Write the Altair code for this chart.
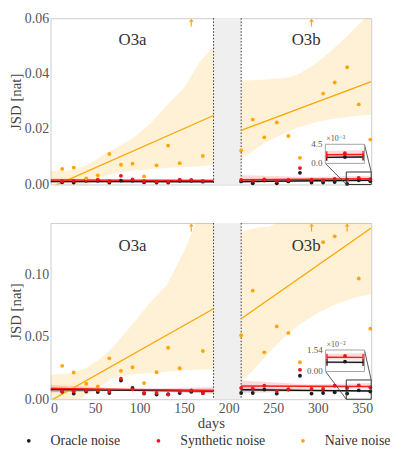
import altair as alt
import numpy as np
import pandas as pd

FONT = "Liberation Serif, DejaVu Serif, serif"
NOISE = ["Oracle noise", "Synthetic noise", "Naive noise"]
COLORS = ["#1c1c1c", "#e8161d", "#ffa500"]
C_OR, C_SY, C_NA = COLORS

X_DOMAIN = [0, 360]
X_TICKS = [0, 50, 100, 150, 200, 250, 300, 350]
SPAN_A = [0, 183]
SPAN_B = [214, 360]
GAP = [183, 214]
RUN_LABELS = ["O3a", "O3b"]
RUN_LABEL_DAYS = [92, 287]

DAYS_A = [13, 26, 40, 53, 66, 79, 92, 105, 119, 132, 145, 158, 171]
DAYS_B = [214, 227, 240, 254, 267, 280, 293, 306, 319, 333, 346, 359]

# ---------------- top panel ----------------
TOP_YMAX = 0.06
TOP_YTICKS = [0.0, 0.02, 0.04, 0.06]
TOP_NAIVE_A = [0.0056, 0.0061, 0.0022, 0.0033, 0.0110, 0.0071, 0.0075, 0.0029, 0.0069, 0.0140, 0.0077, None, 0.0103]
TOP_NAIVE_B = [0.0123, 0.0234, 0.0170, 0.0224, 0.0175, 0.0096, None, 0.0328, 0.0368, 0.0423, 0.0289, 0.0162]
TOP_SYN_A = [0.0012, 0.0013, 0.0016, 0.0017, 0.0012, 0.0031, 0.0018, 0.0012, 0.0010, 0.0010, 0.0017, 0.0016, 0.0013]
TOP_ORA_A = [0.0008, 0.0007, 0.0013, 0.0013, 0.0007, 0.0014, 0.0013, 0.0008, 0.0007, 0.0007, 0.0013, 0.0013, 0.0010]
TOP_SYN_B = [0.0016, 0.0014, 0.0018, 0.0013, 0.0016, 0.0059, 0.0017, 0.0015, 0.0020, 0.0017, 0.0024, 0.0019]
TOP_ORA_B = [0.0011, 0.0004, 0.0014, 0.0004, 0.0011, 0.0042, 0.0007, 0.0007, 0.0009, 0.0002, 0.0015, 0.0012]
# fitted trend lines: value at start and end of each run
TOP_FIT_NAIVE_A = [-0.0011, 0.0249]
TOP_FIT_NAIVE_B = [0.0195, 0.0371]
TOP_FIT_SYN_A = [0.0016, 0.0014]
TOP_FIT_SYN_B = [0.0017, 0.0021]
TOP_FIT_ORA_A = [0.0011, 0.0010]
TOP_FIT_ORA_B = [0.0011, 0.0015]
# confidence bands
TOP_BAND_NAIVE_A_DAYS = [0, 20, 40, 57, 75, 94, 112, 130, 150, 167, 183]
TOP_BAND_NAIVE_A_LO = [-0.006, -0.003, -0.0005, 0.0025, 0.0042, 0.0050, 0.0055, 0.0059, 0.0063, 0.0066, 0.0069]
TOP_BAND_NAIVE_A_HI = [0.0048, 0.0050, 0.0068, 0.0103, 0.0135, 0.0170, 0.0220, 0.0283, 0.0350, 0.0440, 0.0498]
TOP_BAND_NAIVE_B_DAYS = [214, 240, 266, 277, 295, 313, 332, 346, 360]
TOP_BAND_NAIVE_B_LO = [0.0092, 0.0150, 0.0190, 0.0205, 0.0222, 0.0235, 0.0243, 0.0248, 0.0252]
TOP_BAND_NAIVE_B_HI = [0.0374, 0.0379, 0.0385, 0.0396, 0.0430, 0.0476, 0.0532, 0.0578, 0.0620]
TOP_BAND3_DAYS_A = [0, 90, 183]
TOP_BAND3_DAYS_B = [214, 290, 360]
TOP_BAND_SYN_A_LO = [0.0010, 0.0012, 0.0009]
TOP_BAND_SYN_A_HI = [0.0022, 0.0017, 0.0020]
TOP_BAND_ORA_A_LO = [0.0008, 0.0009, 0.0007]
TOP_BAND_ORA_A_HI = [0.0014, 0.0011, 0.0013]
TOP_BAND_SYN_B_LO = [0.0005, 0.0013, 0.0015]
TOP_BAND_SYN_B_HI = [0.0033, 0.0027, 0.0031]
TOP_BAND_ORA_B_LO = [0.0006, 0.0011, 0.0012]
TOP_BAND_ORA_B_HI = [0.0016, 0.0015, 0.0018]
TOP_INSET_YMAX = 0.0045
TOP_INSET_LABELS = ["0.0", "4.5"]
TOP_INSET_EXP = "×10⁻³"

# ---------------- bottom panel ----------------
BOT_YMAX = 0.141
BOT_YTICKS = [0.0, 0.05, 0.10]
BOT_NAIVE_A = [0.0267, 0.0214, 0.0124, 0.0103, 0.0327, 0.0227, 0.0256, 0.0129, 0.0216, 0.0412, 0.0248, None, 0.0386]
BOT_NAIVE_B = [0.0512, 0.0869, 0.0375, 0.0583, 0.0531, 0.0296, None, 0.1257, 0.1304, None, 0.0966, 0.0565]
BOT_SYN_A = [0.0063, 0.0063, 0.0069, 0.0071, 0.0060, 0.0164, 0.0079, 0.0050, 0.0050, 0.0037, 0.0063, 0.0071, 0.0050]
BOT_ORA_A = [0.0060, 0.0045, 0.0062, 0.0058, 0.0050, 0.0150, 0.0090, 0.0045, 0.0037, 0.0040, 0.0050, 0.0060, 0.0050]
BOT_SYN_B = [0.0090, 0.0085, 0.0108, 0.0066, 0.0080, 0.0235, 0.0082, 0.0082, 0.0108, 0.0089, 0.0111, 0.0095]
BOT_ORA_B = [0.0050, 0.0050, 0.0077, 0.0045, 0.0077, 0.0188, 0.0045, 0.0050, 0.0055, 0.0045, 0.0071, 0.0062]
BOT_FIT_NAIVE_A = [-0.0012, 0.0724]
BOT_FIT_NAIVE_B = [0.0644, 0.1370]
BOT_FIT_SYN_A = [0.0085, 0.0069]
BOT_FIT_SYN_B = [0.0106, 0.0101]
BOT_FIT_ORA_A = [0.0077, 0.0065]
BOT_FIT_ORA_B = [0.0075, 0.0065]
BOT_BAND_NAIVE_A_DAYS = [0, 20, 40, 55, 70, 94, 112, 130, 149, 163, 183]
BOT_BAND_NAIVE_A_LO = [-0.013, -0.006, 0.003, 0.010, 0.017, 0.020, 0.021, 0.022, 0.023, 0.0235, 0.024]
BOT_BAND_NAIVE_A_HI = [0.0196, 0.0205, 0.0250, 0.0320, 0.0415, 0.0618, 0.0776, 0.0908, 0.1170, 0.1410, 0.1650]
BOT_BAND_NAIVE_B_DAYS = [214, 230, 245, 260, 280, 300, 320, 340, 360]
BOT_BAND_NAIVE_B_LO = [0.014, 0.025, 0.037, 0.048, 0.060, 0.069, 0.076, 0.081, 0.084]
BOT_BAND_NAIVE_B_HI = [0.134, 0.137, 0.138, 0.143, 0.155, 0.170, 0.185, 0.200, 0.215]
BOT_BAND3_DAYS_A = [0, 90, 183]
BOT_BAND3_DAYS_B = [214, 290, 360]
BOT_BAND_SYN_A_LO = [0.0055, 0.0072, 0.0045]
BOT_BAND_SYN_A_HI = [0.0115, 0.0083, 0.0095]
BOT_BAND_ORA_A_LO = [0.0056, 0.0066, 0.0045]
BOT_BAND_ORA_A_HI = [0.0098, 0.0074, 0.0085]
BOT_BAND_SYN_B_LO = [0.0062, 0.0088, 0.0085]
BOT_BAND_SYN_B_HI = [0.0150, 0.0118, 0.0130]
BOT_BAND_ORA_B_LO = [0.0050, 0.0062, 0.0055]
BOT_BAND_ORA_B_HI = [0.0100, 0.0072, 0.0078]
BOT_INSET_YMAX = 0.0154
BOT_INSET_LABELS = ["0.00", "1.54"]
BOT_INSET_EXP = "×10⁻²"

# inset layout (zoomed window and where the inset box sits, in data units)
INSET_SRC_X = [332, 360]
TOP_INSET_BOX = {"x": [308.5, 352.4], "y": [0.0076, 0.0145]}
BOT_INSET_BOX = {"x": [308.8, 352.4], "y": [0.0222, 0.0394]}

ARROW = "M0,-1L-0.6,-0.25L-0.14,-0.25L-0.14,1L0.14,1L0.14,-0.25L0.6,-0.25Z"
PANEL_W = 324


def build_panel(ymax, yticks, naive, syn, ora, fits, bands_naive, bands3,
                inset_ymax, inset_labels, inset_exp, inset_box, height, bottom):
    xscale = alt.Scale(domain=X_DOMAIN, nice=False, zero=False)
    yscale = alt.Scale(domain=[0, ymax], nice=False, zero=False)
    xaxis = alt.Axis(values=X_TICKS, title="days") if bottom else None
    yaxis = alt.Axis(values=yticks, format=".2f", title="JSD [nat]")

    def X(f="day"):
        return alt.X(f"{f}:Q", scale=xscale, axis=xaxis)

    def Y(f="v"):
        return alt.Y(f"{f}:Q", scale=yscale, axis=yaxis)

    layers = []
    gap = pd.DataFrame({"x0": [GAP[0]], "x1": [GAP[1]], "y0": [0.0], "y1": [ymax]})
    layers.append(alt.Chart(gap).mark_rect(color="#efefef").encode(
        x=X("x0"), x2="x1:Q", y=Y("y0"), y2="y1:Q"))

    def band_df(days_a, lo_a, hi_a, days_b, lo_b, hi_b):
        return pd.concat([
            pd.DataFrame({"day": days_a, "lo": lo_a, "hi": hi_a, "seg": "a"}),
            pd.DataFrame({"day": days_b, "lo": lo_b, "hi": hi_b, "seg": "b"})])

    (nda, nloa, nhia, ndb, nlob, nhib) = bands_naive
    layers.append(alt.Chart(band_df(nda, nloa, nhia, ndb, nlob, nhib)).mark_area(
        clip=True, color=C_NA, opacity=0.16).encode(
        x=X(), y=Y("lo"), y2="hi:Q", detail="seg:N"))
    d3a, d3b, syn_a_lo, syn_a_hi, syn_b_lo, syn_b_hi, ora_a_lo, ora_a_hi, ora_b_lo, ora_b_hi = bands3
    layers.append(alt.Chart(band_df(d3a, syn_a_lo, syn_a_hi, d3b, syn_b_lo, syn_b_hi)).mark_area(
        clip=True, color=C_SY, opacity=0.16).encode(
        x=X(), y=Y("lo"), y2="hi:Q", detail="seg:N"))
    layers.append(alt.Chart(band_df(d3a, ora_a_lo, ora_a_hi, d3b, ora_b_lo, ora_b_hi)).mark_area(
        clip=True, color="#000000", opacity=0.13).encode(
        x=X(), y=Y("lo"), y2="hi:Q", detail="seg:N"))

    layers.append(alt.Chart(pd.DataFrame({"day": GAP})).mark_rule(
        color="#333333", strokeDash=[1.5, 1.8], strokeWidth=1).encode(x=X()))

    def fit_df(fa, fb):
        return pd.DataFrame({"day": SPAN_A + SPAN_B, "v": fa + fb, "seg": ["a", "a", "b", "b"]})

    fna, fnb, fsa, fsb, foa, fob = fits
    for fa, fb, col, w in [(fna, fnb, C_NA, 1.3), (foa, fob, "#111111", 1.5), (fsa, fsb, "#ff1a1a", 1.5)]:
        layers.append(alt.Chart(fit_df(fa, fb)).mark_line(clip=True, color=col, strokeWidth=w).encode(
            x=X(), y=Y(), detail="seg:N"))

    rows = []
    for k, (name, va, vb) in enumerate([(NOISE[0], ora[0], ora[1]), (NOISE[1], syn[0], syn[1]),
                                         (NOISE[2], naive[0], naive[1])]):
        for d, v in list(zip(DAYS_A, va)) + list(zip(DAYS_B, vb)):
            if v is not None:
                rows.append({"day": d, "v": v, "noise": name, "ord": k})
    pts = pd.DataFrame(rows)
    layers.append(alt.Chart(pts).mark_circle(size=15, opacity=1).encode(
        x=X(), y=Y(),
        color=alt.Color("noise:N", scale=alt.Scale(domain=NOISE, range=COLORS),
                        legend=alt.Legend(title=None, orient="none", legendX=-29, legendY=420,
                                          direction="horizontal", columns=3,
                                          symbolType="circle", symbolSize=14, symbolStrokeWidth=0,
                                          labelOffset=15, columnPadding=31, labelFontSize=14,
                                          labelFont=FONT, labelColor="#333333")),
        order=alt.Order("ord:Q")))

    arrow_days = [d for d, v in list(zip(DAYS_A, naive[0])) + list(zip(DAYS_B, naive[1])) if v is None]
    arr = pd.DataFrame({"day": arrow_days, "v": [ymax] * len(arrow_days)})
    layers.append(alt.Chart(arr).mark_point(shape=ARROW, filled=True, size=64, color=C_NA,
                                            opacity=1, yOffset=4.5).encode(x=X(), y=Y()))

    lab = pd.DataFrame({"day": RUN_LABEL_DAYS, "v": [ymax * 0.87] * 2, "t": RUN_LABELS})
    layers.append(alt.Chart(lab).mark_text(font=FONT, fontSize=17, color="#333333").encode(
        x=X(), y=Y(), text="t:N"))

    # ------- inset -------
    bx0, bx1 = inset_box["x"]
    by0, by1 = inset_box["y"]
    sx0, sx1 = INSET_SRC_X

    def mx(d):
        return bx0 + (np.asarray(d, float) - sx0) / (sx1 - sx0) * (bx1 - bx0)

    def my(v):
        return by0 + np.asarray(v, float) / inset_ymax * (by1 - by0)

    zoom_rect = pd.DataFrame({"x0": [sx0], "x1": [sx1], "y0": [0.0], "y1": [inset_ymax]})
    layers.append(alt.Chart(zoom_rect).mark_rect(fillOpacity=0, stroke="#333333", strokeWidth=1).encode(
        x=X("x0"), x2="x1:Q", y=Y("y0"), y2="y1:Q"))
    conn = pd.DataFrame({"x0": [bx0, bx1], "y0": [by0, by1], "x1": [sx0, sx1], "y1": [0.0, inset_ymax]})
    layers.append(alt.Chart(conn).mark_rule(color="#444444", strokeWidth=0.9).encode(
        x=X("x0"), y=Y("y0"), x2="x1:Q", y2="y1:Q"))
    box = pd.DataFrame({"x0": [bx0], "x1": [bx1], "y0": [by0], "y1": [by1]})
    layers.append(alt.Chart(box).mark_rect(fill="white", stroke="#9a9a9a", strokeWidth=0.9).encode(
        x=X("x0"), x2="x1:Q", y=Y("y0"), y2="y1:Q"))

    edge = [sx0, sx1]
    for lo, hi, col, op in [(ora_b_lo, ora_b_hi, "#000000", 0.13), (syn_b_lo, syn_b_hi, C_SY, 0.16)]:
        bdf = pd.DataFrame({"day": mx(edge), "lo": my(np.interp(edge, d3b, lo)),
                            "hi": my(np.interp(edge, d3b, hi))})
        layers.append(alt.Chart(bdf).mark_area(color=col, opacity=op).encode(
            x=X(), y=Y("lo"), y2="hi:Q"))
    ends = [DAYS_B[-3], DAYS_B[-1]]
    for fb, col, pcol, vals in [(fob, "#111111", C_OR, ora[1]), (fsb, "#ff1a1a", C_SY, syn[1])]:
        fv = [fb[0] + (d - SPAN_B[0]) / (SPAN_B[1] - SPAN_B[0]) * (fb[1] - fb[0]) for d in ends]
        ldf = pd.DataFrame({"day": mx(ends), "v": my(fv)})
        layers.append(alt.Chart(ldf).mark_line(color=col, strokeWidth=1.4).encode(x=X(), y=Y()))
        layers.append(alt.Chart(ldf).mark_point(shape="stroke", angle=90, size=50, color=col,
                                                strokeWidth=1.3, opacity=1).encode(x=X(), y=Y()))
        pdf = pd.DataFrame({"day": mx([DAYS_B[-2]]), "v": my([vals[-2]])})
        layers.append(alt.Chart(pdf).mark_circle(size=15, color=pcol, opacity=1).encode(x=X(), y=Y()))
    tl = pd.DataFrame({"day": [bx0, bx0], "v": [by0, by1], "t": inset_labels})
    layers.append(alt.Chart(tl).mark_text(font=FONT, fontSize=9, color="#555555", align="right",
                                          dx=-3).encode(x=X(), y=Y(), text="t:N"))
    te = pd.DataFrame({"day": [bx0], "v": [by1], "t": [inset_exp]})
    layers.append(alt.Chart(te).mark_text(font=FONT, fontSize=8, color="#555555", align="left",
                                          baseline="bottom", dx=1, dy=-1).encode(x=X(), y=Y(), text="t:N"))

    return alt.layer(*layers).properties(width=PANEL_W, height=height)


top = build_panel(
    TOP_YMAX, TOP_YTICKS, (TOP_NAIVE_A, TOP_NAIVE_B), (TOP_SYN_A, TOP_SYN_B), (TOP_ORA_A, TOP_ORA_B),
    (TOP_FIT_NAIVE_A, TOP_FIT_NAIVE_B, TOP_FIT_SYN_A, TOP_FIT_SYN_B, TOP_FIT_ORA_A, TOP_FIT_ORA_B),
    (TOP_BAND_NAIVE_A_DAYS, TOP_BAND_NAIVE_A_LO, TOP_BAND_NAIVE_A_HI,
     TOP_BAND_NAIVE_B_DAYS, TOP_BAND_NAIVE_B_LO, TOP_BAND_NAIVE_B_HI),
    (TOP_BAND3_DAYS_A, TOP_BAND3_DAYS_B, TOP_BAND_SYN_A_LO, TOP_BAND_SYN_A_HI,
     TOP_BAND_SYN_B_LO, TOP_BAND_SYN_B_HI, TOP_BAND_ORA_A_LO, TOP_BAND_ORA_A_HI,
     TOP_BAND_ORA_B_LO, TOP_BAND_ORA_B_HI),
    TOP_INSET_YMAX, TOP_INSET_LABELS, TOP_INSET_EXP, TOP_INSET_BOX, 168, False)

bottom = build_panel(
    BOT_YMAX, BOT_YTICKS, (BOT_NAIVE_A, BOT_NAIVE_B), (BOT_SYN_A, BOT_SYN_B), (BOT_ORA_A, BOT_ORA_B),
    (BOT_FIT_NAIVE_A, BOT_FIT_NAIVE_B, BOT_FIT_SYN_A, BOT_FIT_SYN_B, BOT_FIT_ORA_A, BOT_FIT_ORA_B),
    (BOT_BAND_NAIVE_A_DAYS, BOT_BAND_NAIVE_A_LO, BOT_BAND_NAIVE_A_HI,
     BOT_BAND_NAIVE_B_DAYS, BOT_BAND_NAIVE_B_LO, BOT_BAND_NAIVE_B_HI),
    (BOT_BAND3_DAYS_A, BOT_BAND3_DAYS_B, BOT_BAND_SYN_A_LO, BOT_BAND_SYN_A_HI,
     BOT_BAND_SYN_B_LO, BOT_BAND_SYN_B_HI, BOT_BAND_ORA_A_LO, BOT_BAND_ORA_A_HI,
     BOT_BAND_ORA_B_LO, BOT_BAND_ORA_B_HI),
    BOT_INSET_YMAX, BOT_INSET_LABELS, BOT_INSET_EXP, BOT_INSET_BOX, 178, True)

chart = alt.vconcat(top, bottom, spacing=30).properties(padding=0).configure_view(
    stroke="#cccccc", strokeWidth=1).configure_axis(
    grid=False, ticks=False, domain=False, labelFont=FONT, labelFontSize=14, labelColor="#555555",
    labelPadding=2, titleFont=FONT, titleFontWeight="normal", titleColor="#444444",
    titleFontSize=15, titlePadding=1)

chart.save("out.html", embed_options={"renderer": "svg", "actions": False})
